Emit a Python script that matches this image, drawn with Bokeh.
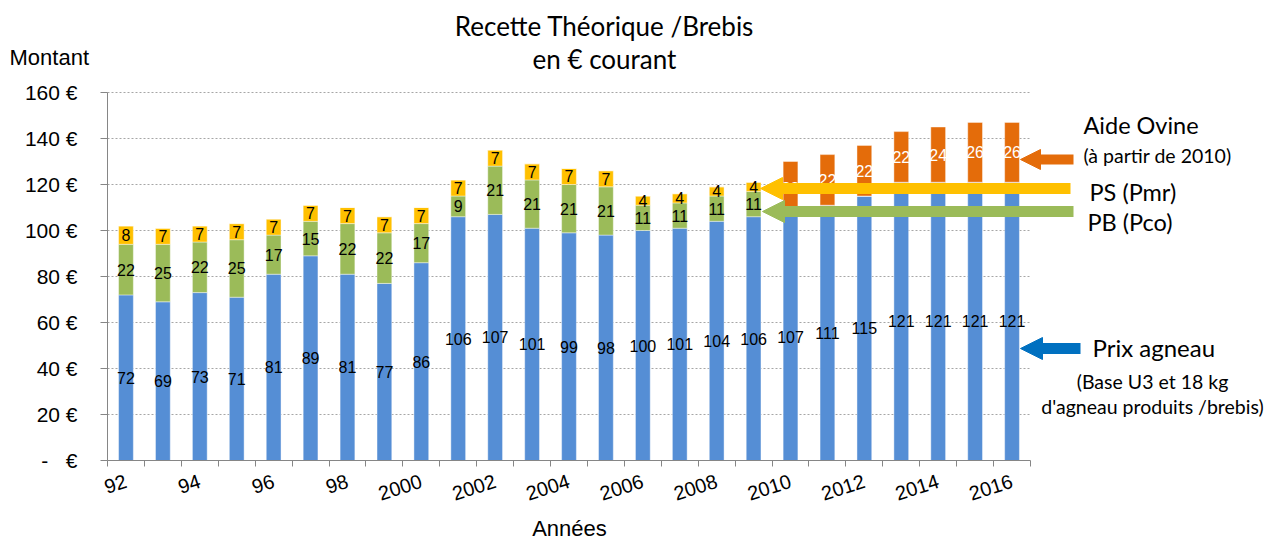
import numpy as np
from bokeh.plotting import figure
from bokeh.models import ColumnDataSource, Range1d, FixedTicker, Label, Arrow, NormalHead
from bokeh.core.properties import value
from bokeh.embed import file_html
from bokeh.resources import INLINE

# ---------------- data ----------------
years = [1992, 1993, 1994, 1995, 1996, 1997, 1998, 1999, 2000, 2001, 2002, 2003, 2004,
         2005, 2006, 2007, 2008, 2009, 2010, 2011, 2012, 2013, 2014, 2015, 2016]
x_tick_years = [1992, 1994, 1996, 1998, 2000, 2002, 2004, 2006, 2008, 2010, 2012, 2014, 2016]
x_tick_labels = ["92", "94", "96", "98", "2000", "2002", "2004", "2006", "2008",
                 "2010", "2012", "2014", "2016"]
prix_agneau = [72, 69, 73, 71, 81, 89, 81, 77, 86, 106, 107, 101, 99,
               98, 100, 101, 104, 106, 107, 111, 115, 121, 121, 121, 121]
pb_pco = [22, 25, 22, 25, 17, 15, 22, 22, 17, 9, 21, 21, 21,
          21, 11, 11, 11, 11, 0, 0, 0, 0, 0, 0, 0]
ps_pmr = [8, 7, 7, 7, 7, 7, 7, 7, 7, 7, 7, 7, 7,
          7, 4, 4, 4, 4, 0, 0, 0, 0, 0, 0, 0]
aide_ovine = [0, 0, 0, 0, 0, 0, 0, 0, 0, 0, 0, 0, 0,
              0, 0, 0, 0, 0, 23, 22, 22, 22, 24, 26, 26]
y_ticks = [0, 20, 40, 60, 80, 100, 120, 140, 160]
y_tick_labels = ["-\u00a0\u00a0\u00a0€", "20 €", "40 €", "60 €", "80 €", "100 €",
                 "120 €", "140 €", "160 €"]

series_names = ["agneau", "pb", "ps", "aide"]
series_values = [prix_agneau, pb_pco, ps_pmr, aide_ovine]
colors = ["#558ED5", "#9BBB59", "#FFC000", "#E46C0A"]
label_colors = ["black", "black", "black", "white"]

# ---------------- styles / geometry ----------------
AXIS_GREY = "#868686"
ARIAL = "Liberation Sans"
CAL = "Lato"
W, H = 1270, 543
PLOT_L, PLOT_R, PLOT_T, PLOT_B = 107, 1030, 92, 460   # plot area in page pixels
n = len(years)
PX_X = (PLOT_R - PLOT_L) / n
Y_MAX = y_ticks[-1]
PX_Y = (PLOT_B - PLOT_T) / Y_MAX
X0 = -0.5 - PLOT_L / PX_X
Y1 = Y_MAX + PLOT_T / PX_Y

def dx(px):
    return X0 + px / PX_X

def dy(py):
    return Y1 - py / PX_Y

xs = list(range(n))
src = ColumnDataSource(dict(x=xs, **{nm: v for nm, v in zip(series_names, series_values)}))

p = figure(width=W, height=H, min_border=0,
           x_range=Range1d(dx(0), dx(W)), y_range=Range1d(dy(H), dy(0)),
           output_backend="svg", toolbar_location=None,
           background_fill_color="white", border_fill_color="white")
p.outline_line_color = None
p.xgrid.grid_line_color = None
p.ygrid.grid_line_color = None

# horizontal dashed grid lines over the category extent
gsrc = ColumnDataSource(dict(y=y_ticks[1:]))
p.segment(x0=-0.5, x1=n - 0.5, y0="y", y1="y", source=gsrc,
          line_color="#A6A6A6", line_dash="2 2", line_width=1)

p.vbar_stack(series_names, x="x", width=0.4, color=colors, source=src,
             line_color="white", line_width=0.6, line_alpha=0.7)

# value labels centred in each segment
bottom = np.zeros(n)
for vals, lc in zip(series_values, label_colors):
    v = np.array(vals, dtype=float)
    mask = v > 0
    centers = bottom + v / 2
    lsrc = ColumnDataSource(dict(x=np.array(xs)[mask], y=centers[mask],
                                 t=[str(int(a)) for a in v[mask]]))
    p.text(x="x", y="y", text="t", source=lsrc, text_align="center",
           text_baseline="middle", text_color=lc,
           text_font=value(ARIAL), text_font_size=value("16px"))
    bottom = bottom + v

# axes (drawn at fixed locations inside the canvas-wide frame)
tick_pos = [years.index(y) for y in x_tick_years]
xa = p.xaxis[0]
xa.fixed_location = 0
xa.bounds = (-0.5, n - 0.5)
xa.ticker = FixedTicker(ticks=tick_pos, minor_ticks=[i - 0.5 for i in range(n + 1)])
xa.major_label_overrides = {k: s for k, s in zip(tick_pos, x_tick_labels)}
xa.major_label_orientation = 0.31
xa.major_tick_out = 0
xa.major_tick_in = 0
xa.minor_tick_out = 6
xa.minor_tick_in = 0
xa.minor_tick_line_color = AXIS_GREY
xa.axis_line_color = AXIS_GREY
xa.major_label_text_font = ARIAL
xa.major_label_text_font_size = "20px"
xa.major_label_text_color = "black"
xa.major_label_standoff = 14

ya = p.yaxis[0]
ya.fixed_location = -0.5
ya.bounds = (0, Y_MAX)
ya.ticker = FixedTicker(ticks=y_ticks)
ya.major_label_overrides = {k: s for k, s in zip(y_ticks, y_tick_labels)}
ya.major_tick_out = 7
ya.major_tick_in = 0
ya.major_tick_line_color = AXIS_GREY
ya.minor_tick_line_color = None
ya.axis_line_color = AXIS_GREY
ya.major_label_text_font = ARIAL
ya.major_label_text_font_size = "21px"
ya.major_label_text_color = "black"
ya.major_label_standoff = 23

# ---------------- annotations ----------------
def label(text, px, py, size, font, align="left", baseline="middle", color="black"):
    p.add_layout(Label(x=dx(px), y=dy(py), text=text, text_font=font,
                       text_font_size=size, text_align=align, text_baseline=baseline,
                       text_color=color))

label("Recette Théorique /Brebis", 604, 25, "26px", CAL, align="center")
label("en € courant", 604, 58, "26px", CAL, align="center")
label("Montant", 9, 57, "22px", ARIAL)
label("Années", 569, 528, "22px", ARIAL, align="center")

label("Aide Ovine", 1083, 124, "23.5px", CAL)
label("(à partir de 2010)", 1083, 155, "19.5px", CAL)
label("PS (Pmr)", 1089, 191, "23.5px", CAL)
label("PB (Pco)", 1087, 221, "23.5px", CAL)
label("Prix agneau", 1092, 347, "24px", CAL)
label("(Base U3 et 18 kg", 1152, 381, "19.5px", CAL, align="center")
label("d'agneau produits /brebis)", 1152, 406, "19.5px", CAL, align="center")

def arrow(x0, x1, py, color, lw, head):
    p.add_layout(Arrow(x_start=dx(x0), y_start=dy(py), x_end=dx(x1), y_end=dy(py),
                       line_color=color, line_width=lw,
                       end=NormalHead(size=head, fill_color=color, line_color=color)))

arrow(1073, 1020, 159, "#E46C0A", 10, 20)
arrow(1070, 760, 188, "#FFC000", 11, 22)
arrow(1073, 762, 211, "#9BBB59", 11, 22)
arrow(1080, 1020, 348, "#0070C0", 11, 22)

open("out.html", "w").write(file_html(p, INLINE))
